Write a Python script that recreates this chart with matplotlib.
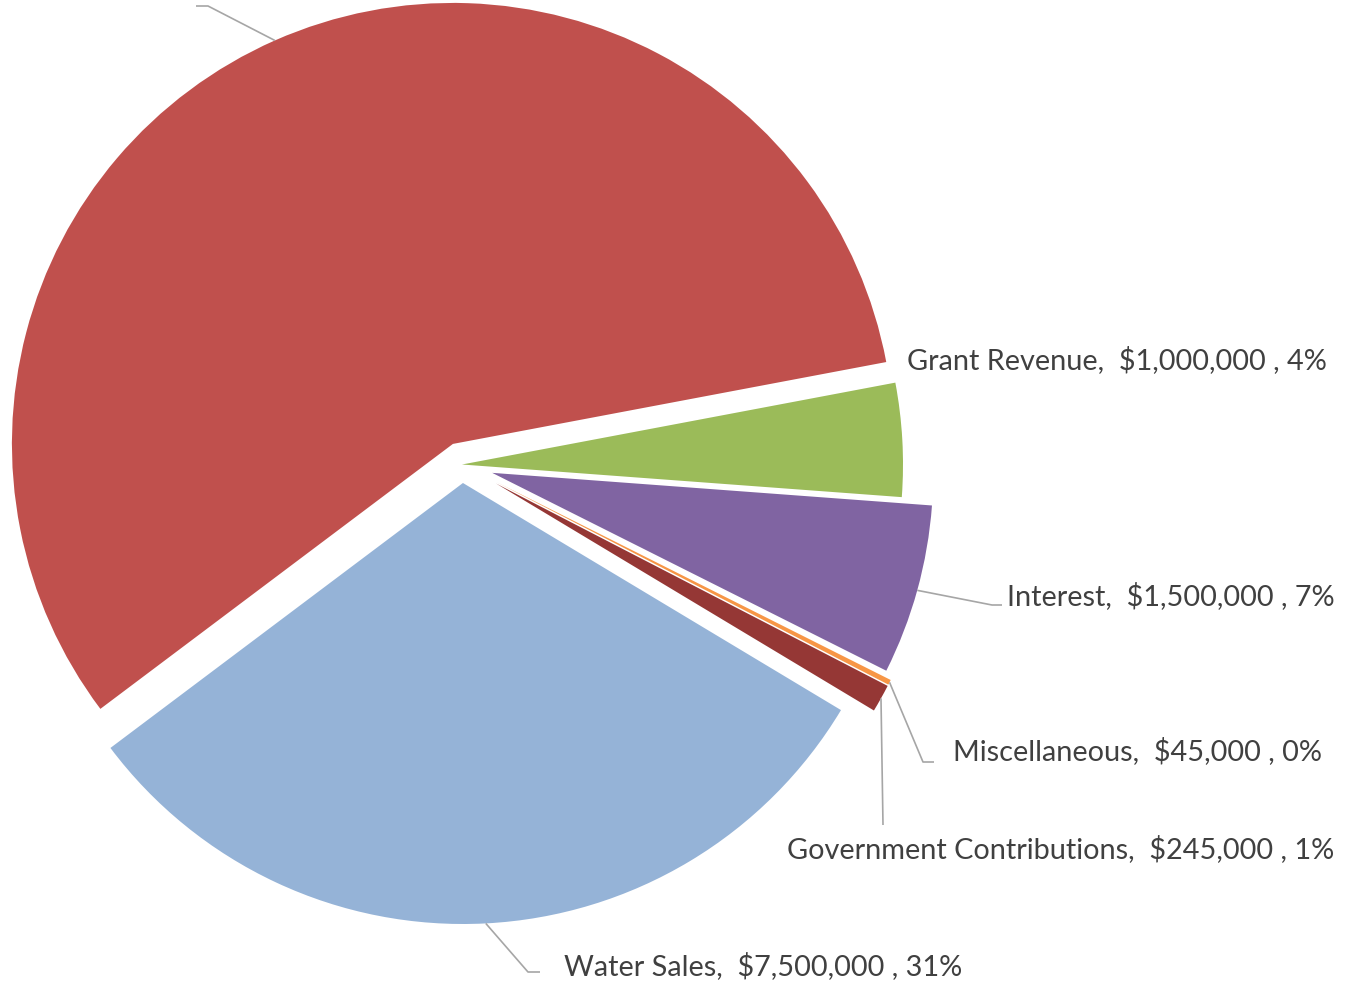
import numpy as np
import matplotlib
matplotlib.use("Agg")
import matplotlib.pyplot as plt

# Revenue sources, in the order the slices run clockwise
categories = ["Grant Revenue", "Interest", "Miscellaneous",
              "Government Contributions", "Water Sales", "Property Taxes"]
amounts = [1_000_000, 1_500_000, 45_000, 245_000, 7_500_000, 13_800_000]
pct_text = ["4%", "7%", "0%", "1%", "31%", None]

colors = ["#9BBB59", "#8064A2", "#F79646", "#953735", "#95B3D7", "#C0504D"]
explode_frac = [0.0, 0.071, 0.088, 0.088, 0.042, 0.051]

W, H = 1361, 985
R = 441
CX, CY = 462, H - 464.5

fig = plt.figure(figsize=(W / 100, H / 100), dpi=100)
ax = fig.add_axes([0, 0, 1, 1])

# pie() takes the explode offset in data units, so scale by the radius
wedges, _ = ax.pie(amounts, colors=colors,
                   explode=[e * R for e in explode_frac], radius=R,
                   center=(CX, CY), startangle=10.7, counterclock=False,
                   wedgeprops=dict(linewidth=0))
ax.set_aspect("auto")
ax.set_xlim(0, W)
ax.set_ylim(0, H)
ax.axis("off")

LINE = "#A6A6A6"
TXT = "#404040"
FONT = dict(family=["Lato", "DejaVu Sans"], size=20.8, color=TXT)


def rim(w):
    # point on the outer arc at the middle of the wedge
    mid = np.deg2rad((w.theta1 + w.theta2) / 2)
    cx, cy = w.center
    return cx + w.r * np.cos(mid), cy + w.r * np.sin(mid)


# leader path (elbow, end) and text anchor for each label, y measured from top
layout = {
    0: (None, (907, 369)),
    1: ([(992, 605), (1002, 605)], (1007, 605)),
    2: ([(923, 762), (934, 762)], (953, 760)),
    3: ([(883, 825)], (787, 858)),
    4: ([(528, 972), (540, 972)], (564, 975)),
    5: ([(208, 6), (196, 6)], None),
}

for i, w in enumerate(wedges):
    path, anchor = layout[i]
    if path:
        x0, y0 = rim(w)
        xs = [x0] + [p[0] for p in path]
        ys = [y0] + [H - p[1] for p in path]
        ax.plot(xs, ys, color=LINE, lw=1.2, solid_capstyle="butt")
    if anchor:
        label = f"{categories[i]},  ${amounts[i]:,.0f} , {pct_text[i]}"
        ax.text(anchor[0], H - anchor[1], label, ha="left", va="baseline", **FONT)

fig.savefig("out.png", dpi=100)
